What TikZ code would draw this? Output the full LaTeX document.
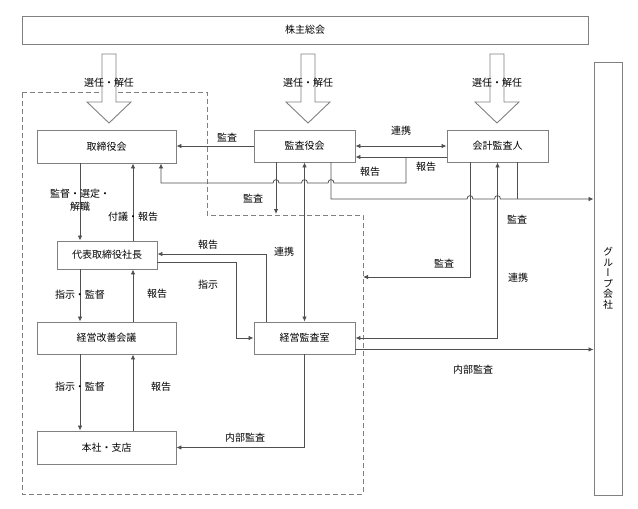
\documentclass[tikz,border=0pt]{standalone}
\usepackage{fontspec}
\setmainfont{Noto Sans CJK JP}
\newfontfamily\jpvert[RawFeature=+vert]{Noto Sans CJK JP}
\usetikzlibrary{arrows.meta}
\definecolor{boxgray}{HTML}{808080}
\definecolor{linegray}{HTML}{505050}
\tikzset{box/.style={draw=boxgray,fill=white,line width=0.9pt,inner sep=0pt,font=\fontsize{10}{12}\selectfont},
	conn/.style={linegray,line width=0.8pt},
	lbl/.style={font=\fontsize{10}{12}\selectfont,inner sep=1pt},
	hollow/.style={draw=boxgray,fill=white,line width=0.9pt}}
% small hop where a line crosses another
\newcommand{\hopL}[2]{-- (#1+3,#2) .. controls (#1+3,#2-4.5) and (#1-3,#2-4.5) .. (#1-3,#2)}
\newcommand{\hopR}[2]{-- (#1-3,#2) .. controls (#1-3,#2-4.5) and (#1+3,#2-4.5) .. (#1+3,#2)}

\begin{document}
\begin{tikzpicture}[x=1pt,y=-1pt,>={Latex[length=5pt,width=4.5pt]}]
	\useasboundingbox (0,0) rectangle (638,509);
	\draw[boxgray,line width=0.9pt,dash pattern=on 5pt off 3pt]
	(22,92) -- (207,92) -- (207,215) -- (363,215) -- (363,494) -- (22,494) -- cycle;
	%
	\node[box,minimum width=566pt,minimum height=28pt] (soukai) at (305,30) {株主総会};
	\node[box,minimum width=28pt,minimum height=433pt,align=center,
	font=\jpvert\fontsize{10}{10.5}\selectfont] (group) at (608,278.5) {グ\\ル\\ー\\プ\\会\\社};
	\foreach \ax/\nm in {109/a,308/b,497/c}{
		\draw[hollow] (\ax-7,54) -- (\ax+7,54) -- (\ax+7,102) -- (\ax+22,102) -- (\ax,123)
		-- (\ax-22,102) -- (\ax-7,102) -- cycle;
		\node[lbl] (sennin\nm) at (\ax,83) {選任・解任};
	}
	%
	\node[box,minimum width=139pt,minimum height=33pt] (torishimari) at (106.5,146.5) {取締役会};
	\node[box,minimum width=101pt,minimum height=32pt] (kansayaku) at (304.5,146) {監査役会};
	\node[box,minimum width=101pt,minimum height=32pt] (kaikei) at (497.5,146) {会計監査人};
	\node[box,minimum width=100pt,minimum height=28pt] (shacho) at (107,255) {代表取締役社長};
	\node[box,minimum width=139pt,minimum height=32pt] (kaizen) at (106.5,338) {経営改善会議};
	\node[box,minimum width=101pt,minimum height=32pt] (keiei) at (304.5,338) {経営監査室};
	\node[box,minimum width=139pt,minimum height=33pt] (honsha) at (106.5,447.5) {本社・支店};
	%
	\coordinate (lA) at (80,0);
	\coordinate (lB) at (133,0);
	\coordinate (rB) at (406,157);
	\coordinate (rT) at (161,183);
	\coordinate (dashA) at (276,214);
	\coordinate (dashB) at (363,277);
	\coordinate (kA) at (331,199);
	\coordinate (kB) at (517,199);
	\coordinate (kC) at (470,199);
	%
	\path[conn,->]
	(torishimari.south -| lA) edge (shacho.north -| lA)
	(shacho.north -| lB) edge (torishimari.south -| lB)
	(shacho.south -| lA) edge (kaizen.north -| lA)
	(kaizen.north -| lB) edge (shacho.south -| lB)
	(kaizen.south -| lA) edge (honsha.north -| lA)
	(honsha.north -| lB) edge (kaizen.south -| lB)
	(kansayaku.west) edge (kansayaku.west -| torishimari.east)
	([yshift=-11pt]kaikei.west) edge ([yshift=-11pt]kansayaku.east)
	(kansayaku.south -| dashA) edge (dashA)
	([yshift=5pt]keiei.south east) edge ([yshift=5pt]keiei.south east -| group.west);
	\path[conn,<->]
	(kansayaku.east) edge (kaikei.west)
	(kansayaku.south) edge (keiei.north);
	\draw[conn,<->] (keiei.east) -| (kaikei.south);
	\draw[conn,->] (keiei.south) |- (honsha.east);
	\draw[conn,->] ([xshift=-38.5pt]keiei.north) |- ([yshift=1pt]shacho.east);
	\draw[conn,->] ([yshift=-7pt]shacho.east) -| ([xshift=-17pt]keiei.west) -- (keiei.west);
	\draw[conn,->] (kaikei.south -| kC) |- (dashB);
	\draw[conn,->] (rB) -- (rB |- rT) \hopL{331}{183} \hopL{304.5}{183} \hopL{276}{183}
	-- (rT) -- (torishimari.south -| rT);
	\draw[conn,->] (kansayaku.south -| kA) -- (kA) \hopR{470}{199} \hopR{497.5}{199}
	-- (kA -| group.west);
	\draw[conn] (kaikei.south -| kB) -- (kB);
	%
	\node[lbl] (kansaT) at (227,138) {監査};
	\node[lbl] (renkeiT) at (401,131) {連携};
	\node[lbl] (hokokuK) at (426,167) {報告};
	\node[lbl] (hokokuT) at (370,172) {報告};
	\node[lbl] (kansaD) at (253,199) {監査};
	\node[lbl,align=center,font=\fontsize{10}{13}\selectfont] (kantoku) at (80,200) {監督・選定・\\解職};
	\node[lbl] (fugi) at (133,217) {付議・報告};
	\node[lbl] (hokokuS) at (208,245) {報告};
	\node[lbl] (renkeiM) at (284,252) {連携};
	\node[lbl] (shijiS) at (208,285) {指示};
	\node[lbl] (shijiA) at (80,295) {指示・監督};
	\node[lbl] (hokokuA) at (157,294) {報告};
	\node[lbl] (kansaG) at (517,220) {監査};
	\node[lbl] (kansaK) at (444,264) {監査};
	\node[lbl] (renkeiK) at (518,278) {連携};
	\node[lbl] (naibuG) at (473,370) {内部監査};
	\node[lbl] (shijiB) at (80,387) {指示・監督};
	\node[lbl] (hokokuB) at (161,387) {報告};
	\node[lbl] (naibuH) at (245,438) {内部監査};
\end{tikzpicture}
\end{document}
